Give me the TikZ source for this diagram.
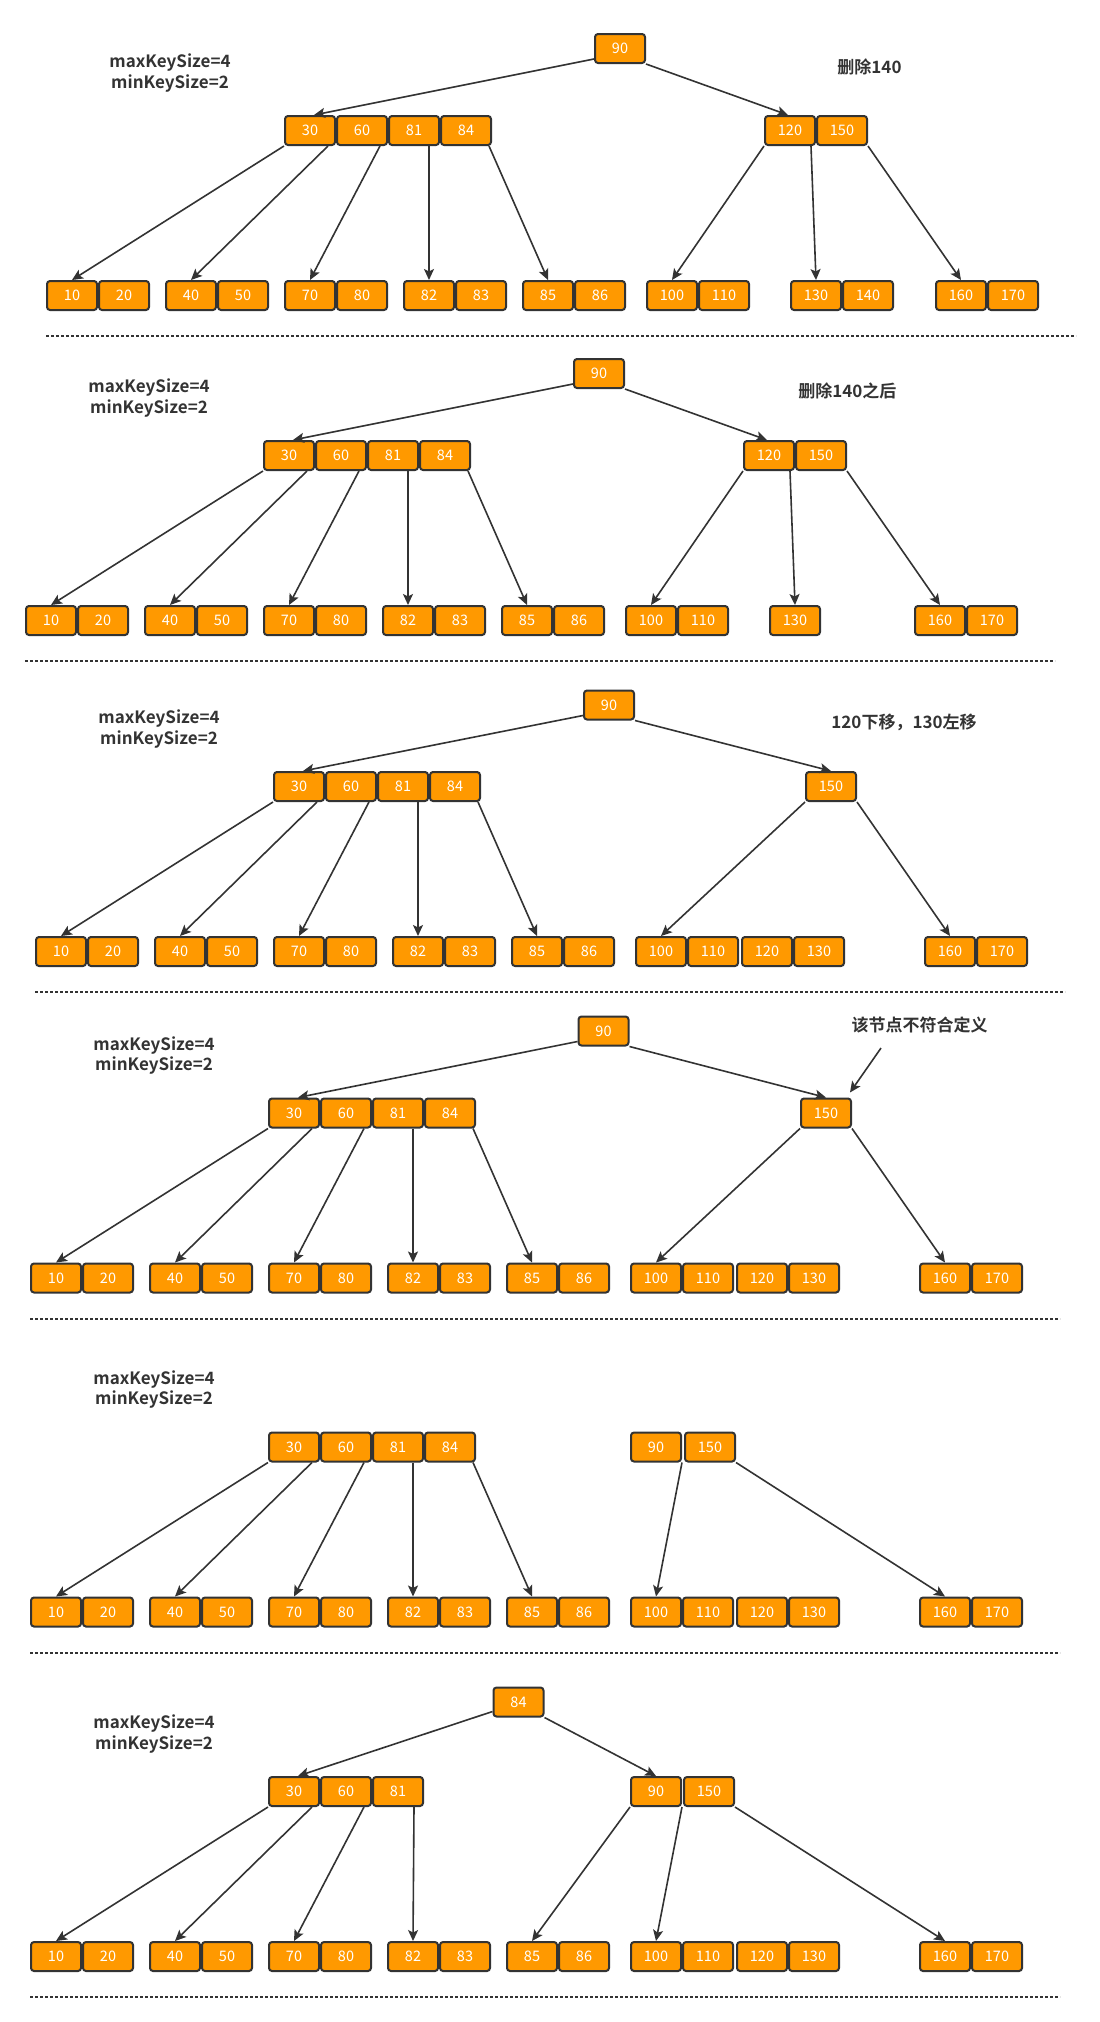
\documentclass[tikz,border=0pt]{standalone}
\usepackage{fontspec}
\setmainfont{Noto Sans CJK SC}[BoldFont={Noto Sans CJK SC Bold}]
\usetikzlibrary{arrows.meta}
\definecolor{orng}{HTML}{FF9900}
\definecolor{dk}{HTML}{333333}
\newcommand{\lowleaves}[1]{%
  \node[kb] (#1l10) at (72,295.5) {10};
  \node[kb] (#1l20) at (124,295.5) {20};
  \node[kb] (#1l40) at (191,295.5) {40};
  \node[kb] (#1l50) at (243,295.5) {50};
  \node[kb] (#1l70) at (310,295.5) {70};
  \node[kb] (#1l80) at (362,295.5) {80};
  \node[kb] (#1l82) at (429,295.5) {82};
  \node[kb] (#1l83) at (481,295.5) {83};
  \node[kb] (#1l85) at (548,295.5) {85};
  \node[kb] (#1l86) at (600,295.5) {86};
}
\newcommand{\keysizes}[1]{%
  \node[lbl] (#1T) at (170,73) {maxKeySize=4\\minKeySize=2};
}
\begin{document}
\begin{tikzpicture}[x=1pt,y=-1pt,
  kb/.style={draw=dk, line width=2pt, rounded corners=3pt, fill=orng, text=white,
    minimum width=50pt, minimum height=29pt, inner sep=0pt, font=\fontsize{14.5}{16}\selectfont},
  ed/.style={draw=dk, line width=1.6pt, -{Stealth[length=11pt,width=10pt,inset=2.5pt]}},
  lbl/.style={text=dk, font=\fontsize{17}{20.6}\selectfont\bfseries, align=center, inner sep=0pt},
  sepline/.style={draw=dk, line width=2pt, dash pattern=on 2.5pt off 2.5pt}]
\useasboundingbox (0,0) rectangle (1100,2022);
\fill[white] (0,0) rectangle (1100,2022);

% ---------------- Panel 1
\begin{scope}[shift={(0,0)}]
  \keysizes{a}
  \node[lbl] (aN) at (869.5,66.7) {删除140};
  \node[kb] (aR) at (620,48.5) {90};
  \node[kb] (am30) at (310,130.5) {30};
  \node[kb] (am60) at (362,130.5) {60};
  \node[kb] (am81) at (414,130.5) {81};
  \node[kb] (am84) at (466,130.5) {84};
  \node[kb] (am120) at (790,130.5) {120};
  \node[kb] (am150) at (842,130.5) {150};
  \lowleaves{a}
  \node[kb] (al100) at (672,295.5) {100};
  \node[kb] (al110) at (724,295.5) {110};
  \node[kb] (al130) at (816,295.5) {130};
  \node[kb] (al140) at (868,295.5) {140};
  \node[kb] (al160) at (961,295.5) {160};
  \node[kb] (al170) at (1013,295.5) {170};
  \draw[ed] ([yshift=5pt]aR.south west) -- ([xshift=4pt]am30.north);
  \draw[ed] (aR.south east) -- ([xshift=-2pt]am120.north);
  \draw[ed] (am30.south west) -- (al10.north);
  \draw[ed] ([xshift=-8pt]am30.south east) -- (al40.north);
  \draw[ed] ([xshift=-8pt]am60.south east) -- (al70.north);
  \draw[ed] ([xshift=-11pt]am81.south east) -- (al82.north);
  \draw[ed] ([xshift=-3pt]am84.south east) -- (al85.north);
  \draw[ed] (am120.south west) -- (al100.north);
  \draw[ed] ([xshift=-5pt]am120.south east) -- (al130.north);
  \draw[ed] (am150.south east) -- (al160.north);
  \draw[sepline] (46,336) -- (1076,336);
\end{scope}

% ---------------- Panel 2
\begin{scope}[shift={(-21,325)}]
  \keysizes{b}
  \node[lbl] (bN) at (868.3,65.7) {删除140之后};
  \node[kb] (bR) at (620,48.5) {90};
  \node[kb] (bm30) at (310,130.5) {30};
  \node[kb] (bm60) at (362,130.5) {60};
  \node[kb] (bm81) at (414,130.5) {81};
  \node[kb] (bm84) at (466,130.5) {84};
  \node[kb] (bm120) at (790,130.5) {120};
  \node[kb] (bm150) at (842,130.5) {150};
  \lowleaves{b}
  \node[kb] (bl100) at (672,295.5) {100};
  \node[kb] (bl110) at (724,295.5) {110};
  \node[kb] (bl130) at (816,295.5) {130};
  \node[kb] (bl160) at (961,295.5) {160};
  \node[kb] (bl170) at (1013,295.5) {170};
  \draw[ed] ([yshift=5pt]bR.south west) -- ([xshift=4pt]bm30.north);
  \draw[ed] (bR.south east) -- ([xshift=-2pt]bm120.north);
  \draw[ed] (bm30.south west) -- (bl10.north);
  \draw[ed] ([xshift=-8pt]bm30.south east) -- (bl40.north);
  \draw[ed] ([xshift=-8pt]bm60.south east) -- (bl70.north);
  \draw[ed] ([xshift=-11pt]bm81.south east) -- (bl82.north);
  \draw[ed] ([xshift=-3pt]bm84.south east) -- (bl85.north);
  \draw[ed] (bm120.south west) -- (bl100.north);
  \draw[ed] ([xshift=-5pt]bm120.south east) -- (bl130.north);
  \draw[ed] (bm150.south east) -- (bl160.north);
  \draw[sepline] (46,336) -- (1076,336);
\end{scope}

% ---------------- Panel 3
\begin{scope}[shift={(-11,656)}]
  \keysizes{c}
  \node[lbl] (cN) at (915,66) {120下移，130左移};
  \node[kb] (cR) at (620,49) {90};
  \node[kb] (cm30) at (310,130.5) {30};
  \node[kb] (cm60) at (362,130.5) {60};
  \node[kb] (cm81) at (414,130.5) {81};
  \node[kb] (cm84) at (466,130.5) {84};
  \node[kb] (cm150) at (842,130.5) {150};
  \lowleaves{c}
  \node[kb] (cl100) at (672,295.5) {100};
  \node[kb] (cl110) at (724,295.5) {110};
  \node[kb] (cl120) at (778,295.5) {120};
  \node[kb] (cl130) at (830,295.5) {130};
  \node[kb] (cl160) at (961,295.5) {160};
  \node[kb] (cl170) at (1013,295.5) {170};
  \draw[ed] ([yshift=5pt]cR.south west) -- ([xshift=4pt]cm30.north);
  \draw[ed] (cR.south east) -- (cm150.north);
  \draw[ed] (cm30.south west) -- (cl10.north);
  \draw[ed] ([xshift=-8pt]cm30.south east) -- (cl40.north);
  \draw[ed] ([xshift=-8pt]cm60.south east) -- (cl70.north);
  \draw[ed] ([xshift=-11pt]cm81.south east) -- (cl82.north);
  \draw[ed] ([xshift=-3pt]cm84.south east) -- (cl85.north);
  \draw[ed] (cm150.south west) -- (cl100.north);
  \draw[ed] (cm150.south east) -- (cl160.north);
  \draw[sepline] (46,336) -- (1076,336);
\end{scope}

% ---------------- Panel 4
\begin{scope}[shift={(-16,982.5)}]
  \keysizes{d}
  \node[lbl] (dN) at (935.5,42.5) {该节点不符合定义};
  \coordinate (dA) at (897,65.5);
  \node[kb] (dR) at (619.5,48.5) {90};
  \node[kb] (dm30) at (310,130.5) {30};
  \node[kb] (dm60) at (362,130.5) {60};
  \node[kb] (dm81) at (414,130.5) {81};
  \node[kb] (dm84) at (466,130.5) {84};
  \node[kb] (dm150) at (842,130.5) {150};
  \lowleaves{d}
  \node[kb] (dl100) at (672,295.5) {100};
  \node[kb] (dl110) at (724,295.5) {110};
  \node[kb] (dl120) at (778,295.5) {120};
  \node[kb] (dl130) at (830,295.5) {130};
  \node[kb] (dl160) at (961,295.5) {160};
  \node[kb] (dl170) at (1013,295.5) {170};
  \draw[ed] ([yshift=5pt]dR.south west) -- ([xshift=4pt]dm30.north);
  \draw[ed] (dR.south east) -- (dm150.north);
  \draw[ed] (dA) -- ([xshift=-2pt,yshift=5pt]dm150.north east);
  \draw[ed] (dm30.south west) -- (dl10.north);
  \draw[ed] ([xshift=-8pt]dm30.south east) -- (dl40.north);
  \draw[ed] ([xshift=-8pt]dm60.south east) -- (dl70.north);
  \draw[ed] ([xshift=-11pt]dm81.south east) -- (dl82.north);
  \draw[ed] ([xshift=-3pt]dm84.south east) -- (dl85.north);
  \draw[ed] (dm150.south west) -- (dl100.north);
  \draw[ed] (dm150.south east) -- (dl160.north);
  \draw[sepline] (46,336) -- (1076,336);
\end{scope}

% ---------------- Panel 5
\begin{scope}[shift={(-16,1316.5)}]
  \keysizes{e}
  \node[kb] (em30) at (310,130.5) {30};
  \node[kb] (em60) at (362,130.5) {60};
  \node[kb] (em81) at (414,130.5) {81};
  \node[kb] (em84) at (466,130.5) {84};
  \node[kb] (em90) at (672,130.5) {90};
  \node[kb] (em150) at (726,130.5) {150};
  \lowleaves{e}
  \node[kb] (el100) at (672,295.5) {100};
  \node[kb] (el110) at (724,295.5) {110};
  \node[kb] (el120) at (778,295.5) {120};
  \node[kb] (el130) at (830,295.5) {130};
  \node[kb] (el160) at (961,295.5) {160};
  \node[kb] (el170) at (1013,295.5) {170};
  \draw[ed] (em30.south west) -- (el10.north);
  \draw[ed] ([xshift=-8pt]em30.south east) -- (el40.north);
  \draw[ed] ([xshift=-8pt]em60.south east) -- (el70.north);
  \draw[ed] ([xshift=-11pt]em81.south east) -- (el82.north);
  \draw[ed] ([xshift=-3pt]em84.south east) -- (el85.north);
  \draw[ed] (em90.south east) -- (el100.north);
  \draw[ed] (em150.south east) -- (el160.north);
  \draw[sepline] (46,336) -- (1076,336);
\end{scope}

% ---------------- Panel 6
\begin{scope}[shift={(-16,1661)}]
  \keysizes{f}
  \node[kb] (fR) at (534.5,41) {84};
  \node[kb] (fm30) at (310,130.5) {30};
  \node[kb] (fm60) at (362,130.5) {60};
  \node[kb] (fm81) at (414,130.5) {81};
  \node[kb] (fm90) at (672,130.5) {90};
  \node[kb] (fm150) at (725,130.5) {150};
  \lowleaves{f}
  \node[kb] (fl100) at (672,295.5) {100};
  \node[kb] (fl110) at (724,295.5) {110};
  \node[kb] (fl120) at (778,295.5) {120};
  \node[kb] (fl130) at (830,295.5) {130};
  \node[kb] (fl160) at (961,295.5) {160};
  \node[kb] (fl170) at (1013,295.5) {170};
  \draw[ed] ([yshift=6pt]fR.south west) -- ([xshift=4pt]fm30.north);
  \draw[ed] (fR.south east) -- (fm90.north);
  \draw[ed] (fm30.south west) -- (fl10.north);
  \draw[ed] ([xshift=-8pt]fm30.south east) -- (fl40.north);
  \draw[ed] ([xshift=-8pt]fm60.south east) -- (fl70.north);
  \draw[ed] ([xshift=-10pt]fm81.south east) -- (fl82.north);
  \draw[ed] (fm90.south west) -- (fl85.north);
  \draw[ed] (fm90.south east) -- (fl100.north);
  \draw[ed] (fm150.south east) -- (fl160.north);
  \draw[sepline] (46,336) -- (1076,336);
\end{scope}
\end{tikzpicture}
\end{document}
